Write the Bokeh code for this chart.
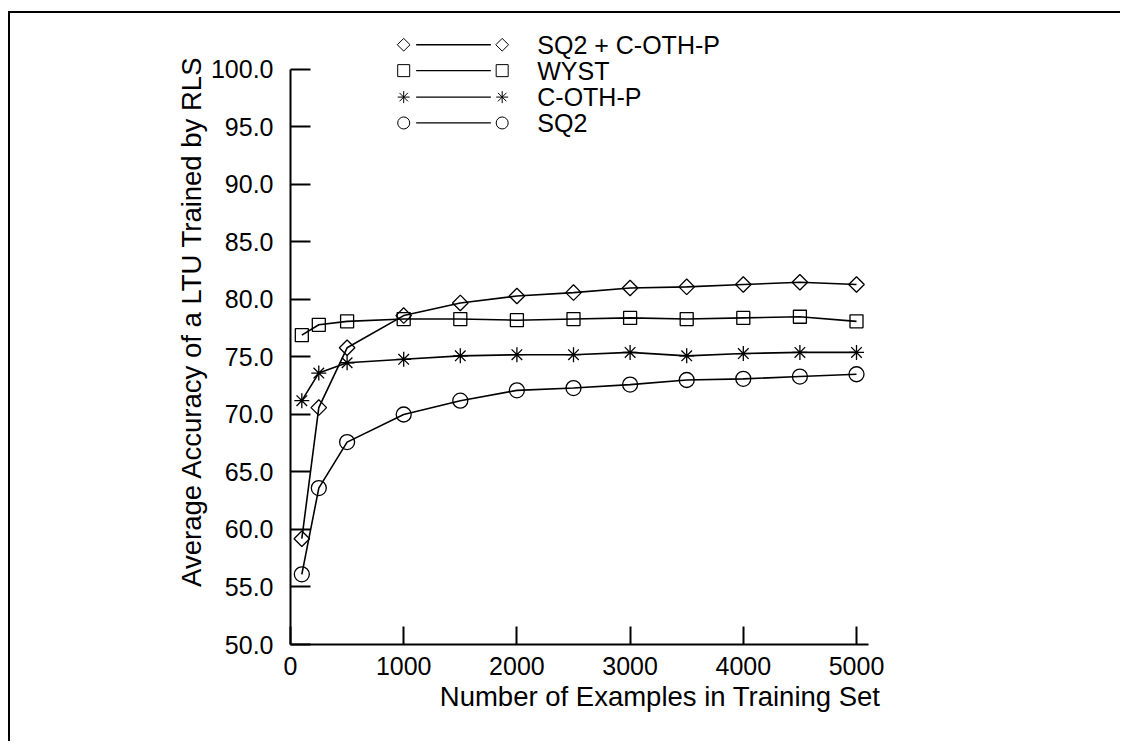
from bokeh.plotting import figure
from bokeh.models import Range1d, SingleIntervalTicker, PrintfTickFormatter, Title, Column
from bokeh.embed import file_html
from bokeh.resources import INLINE
from bokeh.core.properties import value

# ---- data ----
examples = [100, 250, 500, 1000, 1500, 2000, 2500, 3000, 3500, 4000, 4500, 5000]
sq2_coth = [59.2, 70.6, 75.8, 78.6, 79.7, 80.3, 80.6, 81.0, 81.1, 81.3, 81.5, 81.3]
wyst     = [76.9, 77.8, 78.1, 78.3, 78.3, 78.2, 78.3, 78.4, 78.3, 78.4, 78.5, 78.1]
coth_p   = [71.2, 73.6, 74.5, 74.8, 75.1, 75.2, 75.2, 75.4, 75.1, 75.3, 75.4, 75.4]
sq2      = [56.1, 63.6, 67.6, 70.0, 71.2, 72.1, 72.3, 72.6, 73.0, 73.1, 73.3, 73.5]
series_names = ["SQ2 + C-OTH-P", "WYST", "C-OTH-P", "SQ2"]
x_title = "Number of Examples in Training Set"
y_title = "Average Accuracy of a LTU Trained by RLS"

FONT = "Liberation Sans"
FS = "25px"
TFS = "27.5px"

p = figure(width=1110, height=728, output_backend="svg", toolbar_location=None,
           x_range=Range1d(0, 5106), y_range=Range1d(50, 103.39),
           min_border_left=280, min_border_right=252, min_border_top=17, min_border_bottom=97)
p.outline_line_color = None
p.xgrid.visible = False
p.ygrid.visible = False
p.background_fill_color = "white"
p.border_fill_color = "white"

for ax in (p.xaxis[0], p.yaxis[0]):
    ax.axis_line_width = 2
    ax.axis_line_color = "black"
    ax.major_tick_line_width = 2
    ax.major_tick_line_color = "black"
    ax.minor_tick_line_color = None
    ax.major_tick_out = 0
    ax.major_label_text_font = FONT
    ax.major_label_text_font_size = FS
    ax.major_label_text_color = "black"

p.yaxis.ticker = SingleIntervalTicker(interval=5)
p.yaxis.formatter = PrintfTickFormatter(format="%.1f")
p.yaxis.bounds = (50, 100)
p.yaxis.major_tick_in = 20
p.yaxis.major_label_standoff = 13

p.xaxis.ticker = SingleIntervalTicker(interval=1000)
p.xaxis.major_tick_in = 18
p.xaxis.major_label_standoff = 8

p.add_layout(Title(text=x_title, align="right", offset=-12,
                   text_font=FONT, text_font_size=TFS, text_font_style="normal",
                   text_color="black", standoff=2), "below")
p.add_layout(Title(text=y_title, align="right", offset=25,
                   text_font=FONT, text_font_size=TFS, text_font_style="normal",
                   text_color="black", standoff=2), "left")

# ---- series ----
series = [sq2_coth, wyst, coth_p, sq2]
markers = ["square", "square", "asterisk", "circle"]
angles = [0.785398, 0, 0, 0]
sizes = [11, 13, 15, 15]
for ys, m, a, s in zip(series, markers, angles, sizes):
    p.line(examples, ys, line_color="black", line_width=1.6)
    p.scatter(examples, ys, marker=m, angle=a, size=s, fill_color=None,
              line_color="black", line_width=1.3)

# ---- legend (markers at both ends of a line, text to the right) ----
leg_rows = [102.15, 99.9, 97.6, 95.35]
leg_mx = [1000, 1870]
leg_line = [1110, 1770]
leg_tx = 2180
leg_sizes = [9, 12, 12, 12]
for name, yv, m, a, s in zip(series_names, leg_rows, markers, angles, leg_sizes):
    p.line(leg_line, [yv, yv], line_color="black", line_width=1.3)
    p.scatter(leg_mx, [yv, yv], marker=m, angle=a, size=s, fill_color=None,
              line_color="black", line_width=1)
    p.text([leg_tx], [yv], text=[name], text_font=value(FONT), text_font_size=FS,
           text_baseline="middle", text_align="left", text_color="black")

layout = Column(p, styles={"border-left": "2px solid black", "border-top": "2px solid black",
                           "margin-left": "8px", "margin-top": "11px"})

open("out.html", "w").write(file_html(layout, INLINE))
